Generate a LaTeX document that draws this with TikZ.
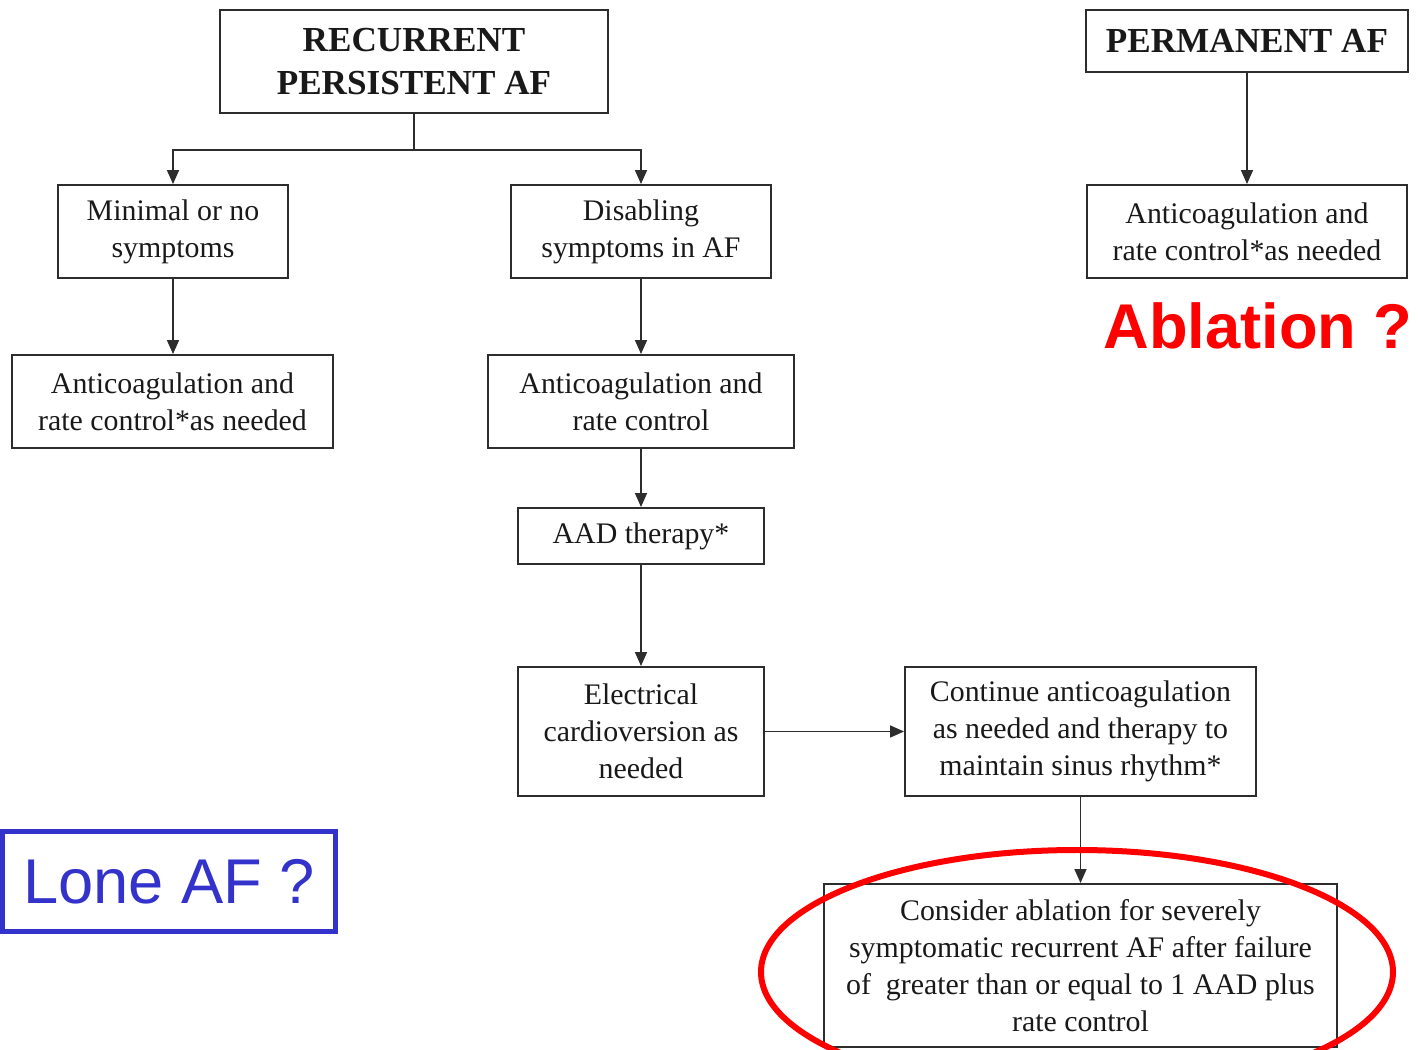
\documentclass[tikz,border=0pt]{standalone}
\usepackage{fontspec}
\setmainfont{Liberation Serif}
\newfontfamily\arialfont{Liberation Sans}
\usetikzlibrary{arrows.meta}
\definecolor{boxline}{RGB}{45,45,45}
\definecolor{loneblue}{RGB}{51,51,204}

\begin{document}
\begin{tikzpicture}[
    x=0.02cm, y=-0.02cm,
    every node/.style={align=center, inner sep=0pt, text=black!90},
    box/.style={draw=boxline, line width=1.1pt, font=\fontsize{17}{21}\selectfont, minimum height=1.86cm},
    head/.style={box, font=\fontsize{20}{24}\selectfont\bfseries},
    link/.style={->, draw=boxline, line width=0.9pt},
    >={Triangle[length=0.28cm, width=0.24cm]}
]
\useasboundingbox (0,0) rectangle (1418,1050);

\node (rec)       at (414, 61.5)   [head, minimum width=7.76cm, minimum height=2.06cm] {RECURRENT\\ PERSISTENT AF};
\node (perm)      at (1247, 41)    [head, minimum width=6.44cm, minimum height=1.24cm] {PERMANENT AF};
\node (minimal)   at (173, 231.5)  [box, minimum width=4.6cm]  {Minimal or no\\ symptoms};
\node (disabling) at (641, 231.5)  [box, minimum width=5.2cm]  {Disabling\\ symptoms in AF};
\node (rateR)     at (1247, 231.5) [box, minimum width=6.4cm]  {Anticoagulation and\\ rate control*as needed};
\node (rateL)     at (172.5, 401.5) [box, minimum width=6.42cm] {Anticoagulation and\\ rate control*as needed};
\node (rateM)     at (641, 401.5)  [box, minimum width=6.12cm] {Anticoagulation and\\ rate control};
\node (aad)       at (641, 536)    [box, minimum width=4.92cm, minimum height=1.12cm] {AAD therapy*};
\node (cardio)    at (641, 731.5)  [box, minimum width=4.92cm, minimum height=2.58cm] {Electrical\\ cardioversion as\\ needed};
\node (cont)      at (1080.5, 731.5) [box, minimum width=7.02cm, minimum height=2.58cm] {Continue anticoagulation\\ as needed and therapy to\\ maintain sinus rhythm*};
\node (ablate)    at (1080.5, 965.5) [box, minimum width=10.26cm, minimum height=3.26cm] {Consider ablation for severely\\ symptomatic recurrent AF after failure\\ of\ \ greater than or equal to 1 AAD plus\\ rate control};

\node (ablq) at (1258, 326) [text=red, font=\arialfont\bfseries\fontsize{36}{40}\selectfont] {Ablation ?};
\node (lone) at (169, 881.5) [draw=loneblue, line width=0.1cm, minimum width=6.66cm, minimum height=2cm,
    text=loneblue, font=\arialfont\fontsize{36}{40}\selectfont] {Lone AF ?};

\draw[link] (rec.south) -- ++(0,36) -| (minimal.north);
\draw[link] (rec.south) -- ++(0,36) -| (disabling.north);
\draw[link] (minimal) -- (minimal |- rateL.north);
\draw[link] (disabling) -- (rateM);
\draw[link] (rateM) -- (aad);
\draw[link] (aad) -- (cardio);
\draw[link] (cardio) -- (cont);
\draw[link] (cont) -- (ablate);
\draw[link] (perm) -- (rateR);

% red highlight round the last step
\draw[red, line width=0.12cm] (1077, 972) ellipse [x radius=316, y radius=122];
\end{tikzpicture}
\end{document}
